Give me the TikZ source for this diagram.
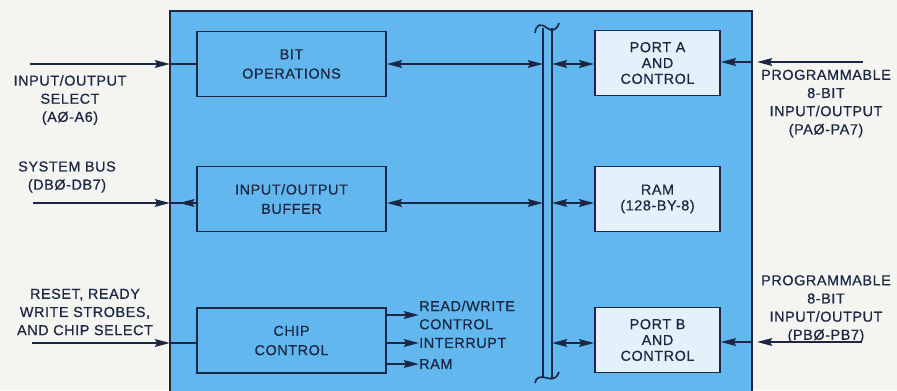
\documentclass[tikz,border=0pt]{standalone}
\usepackage{fontspec}
\setmainfont{Liberation Sans}[LetterSpace=4,FakeBold=0.6]
\usetikzlibrary{arrows.meta,positioning,calc}
\usepackage{xcolor}
\definecolor{paper}{HTML}{F4F4F1}
\definecolor{chipblue}{HTML}{62B8EE}
\definecolor{portfill}{HTML}{E4F1FA}
\definecolor{ink}{HTML}{1C2744}
\tikzset{
  block/.style={draw=ink, line width=1.3pt, align=center, fill=chipblue, text=ink, minimum width=5.67cm, minimum height=1.95cm, font=\fontsize{12.3}{16.5}\selectfont},
  portbox/.style={block, fill=portfill, minimum width=3.75cm, font=\fontsize{12.3}{13.5}\selectfont},
  sigtext/.style={align=center, text=ink, inner sep=0pt, font=\fontsize{12.3}{15.5}\selectfont},
  wire/.style={line width=1.9pt, draw=ink},
  sig/.style={wire, -{Stealth[length=4.5mm,width=2.3mm,inset=0.6mm]}},
  dsig/.style={wire, {Stealth[length=4.5mm,width=2.3mm,inset=0.6mm]}-{Stealth[length=4.5mm,width=2.3mm,inset=0.6mm]}},
  busline/.style={draw=ink, line width=1.4pt}
}

\begin{document}
\begin{tikzpicture}[x=0.03cm, y=-0.03cm]
  \clip (0,0) rectangle (897,390);
  \fill[paper] (0,0) rectangle (897,390);
  % chip outline
  \coordinate (frameL) at (170,11);
  \coordinate (frameR) at (752,11);
  \filldraw[fill=chipblue, draw=ink, line width=1.3pt] (frameL) rectangle (752,400);

  % signal rows
  \coordinate (rowA) at (0,64);
  \coordinate (rowB) at (0,203);
  \coordinate (rowC) at (0,343);

  % blocks
  \node[block] (bit) at (291.5,64) {BIT\\OPERATIONS};
  \node[block] (iobuf) at (291.5,199) {INPUT/OUTPUT\\BUFFER};
  \node[block] (ctl) at (291.5,340.5) {CHIP\\CONTROL};
  \node[portbox] (porta) at (657.5,63) {PORT A\\AND\\CONTROL};
  \node[portbox] (ram) at (657.5,199) {RAM\\(128-BY-8)};
  \node[portbox] (portb) at (657.5,340) {PORT B\\AND\\CONTROL};

  % internal bus
  \coordinate (busL) at (543,28);
  \coordinate (busR) at (552,28);
  \coordinate (busbot) at (0,378);
  \draw[busline] (busL) -- (busL |- busbot);
  \draw[busline] (busR) -- (busR |- busbot);
  \draw[busline] (535,33) .. controls (536,24) and (541,23) .. (547,28) .. controls (552,32) and (557,30) .. (559,23);
  \draw[busline] (535,383) .. controls (536,377) and (540,376) .. (547,378) .. controls (553,380) and (557,378) .. (559,372);

  % block <-> bus
  \draw[dsig] (bit.east |- rowA) -- (busL |- rowA);
  \draw[dsig] (iobuf.east |- rowB) -- (busL |- rowB);
  \draw[dsig] (busR |- rowA) -- (porta.west |- rowA);
  \draw[dsig] (busR |- rowB) -- (ram.west |- rowB);
  \draw[dsig] (busR |- rowC) -- (portb.west |- rowC);

  % left side signals
  \coordinate (selin) at (30,64);
  \coordinate (dbin) at (33,203);
  \coordinate (ctlin) at (32,343);
  \draw[sig] (selin) -- (selin -| frameL);
  \draw[wire] (selin -| frameL) -- (bit.west |- selin);
  \draw[wire] (dbin -| frameL) -- (iobuf.west |- dbin);
  \draw[sig] (dbin) -- (dbin -| frameL);
  \draw[sig] (iobuf.west |- dbin) -- ++(-17,0);
  \draw[sig] (ctlin) -- (ctlin -| frameL);
  \draw[wire] (ctlin -| frameL) -- (ctl.west |- ctlin);

  \node[sigtext] (seltxt) at (70,100) {INPUT/OUTPUT\\SELECT\\(AØ-A6)};
  \node[sigtext] (dbtxt) at (67,177) {SYSTEM BUS\\(DBØ-DB7)};
  \node[sigtext] (ctltxt) at (85,312) {RESET, READY\\WRITE STROBES,\\AND CHIP SELECT};

  % right side signals
  \coordinate (pain) at (863,62);
  \coordinate (pbin) at (862,342);
  \draw[sig] (pain) -- ($(pain -| frameR)+(5,0)$);
  \draw[sig] (pain -| frameR) -- (porta.east |- pain);
  \draw[sig] (pbin) -- ($(pbin -| frameR)+(5,0)$);
  \draw[sig] (pbin -| frameR) -- (portb.east |- pbin);

  \node[sigtext] (patxt) at (826,103.5) {PROGRAMMABLE\\8-BIT\\INPUT/OUTPUT\\(PAØ-PA7)};
  \node[sigtext] (pbtxt) at (826,309) {PROGRAMMABLE\\8-BIT\\INPUT/OUTPUT\\(PBØ-PB7)};

  % chip control outputs
  \node[sigtext, align=left, anchor=west] (rwtxt) at (419,315) {READ/WRITE\\CONTROL};
  \node[sigtext, anchor=west] (inttxt) at (419,343) {INTERRUPT};
  \node[sigtext, anchor=west] (ramtxt) at (419,364) {RAM};
  \draw[sig] (ctl.east |- rwtxt) -- (rwtxt.west);
  \draw[sig] (ctl.east |- inttxt) -- (inttxt.west);
  \draw[sig] (ctl.east |- ramtxt) -- (ramtxt.west);
\end{tikzpicture}
\end{document}
